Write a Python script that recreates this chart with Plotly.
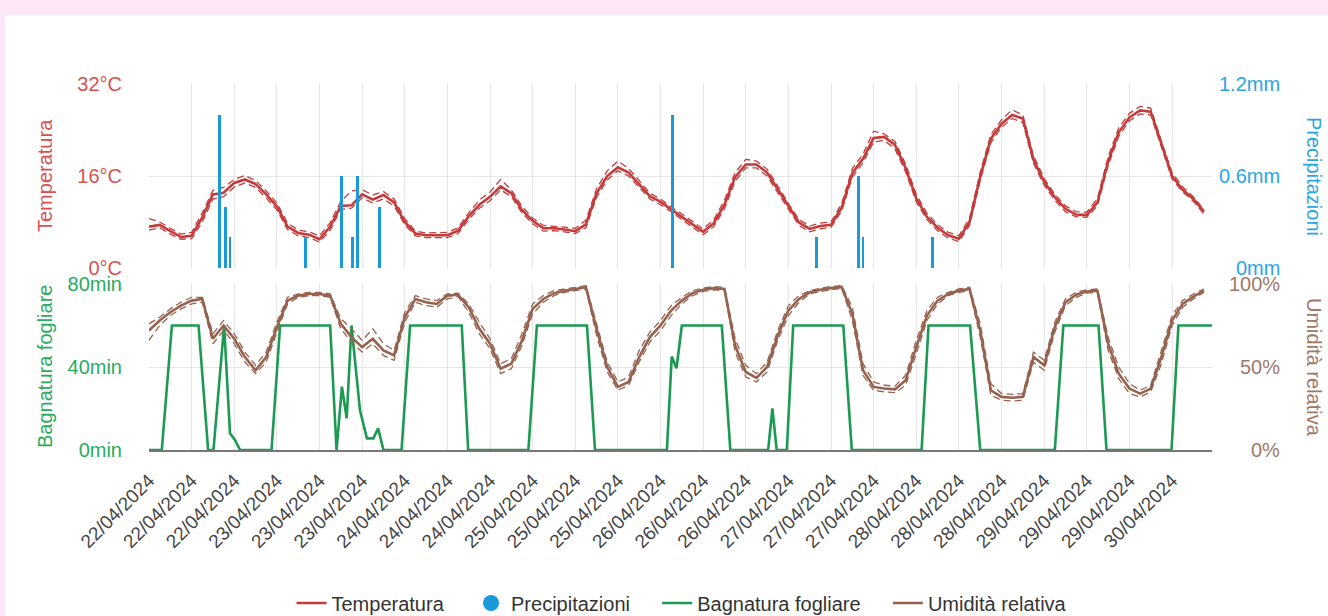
import plotly.graph_objects as go
from plotly.subplots import make_subplots
from datetime import datetime, timedelta

# ---------------- data ----------------
START = datetime(2024, 4, 22, 0, 0)
END_HOURS = 199.5

# 2-hourly samples (hours since start)
sample_hours = list(range(0, 200, 2))

temp_mean = [
    7.2, 7.5, 6.4, 5.4, 5.6, 8.8, 12.8, 13.1, 14.8, 15.4,
    14.6, 12.8, 10.7, 7.2, 6.1, 5.8, 5.0, 7.2, 10.8, 10.9,
    12.8, 11.9, 12.7, 11.4, 8.0, 6.0, 5.7, 5.7, 5.7, 6.5,
    9.0, 11.0, 12.4, 14.2, 13.0, 10.1, 8.2, 6.9, 6.9, 6.7,
    6.4, 7.6, 13.0, 16.0, 17.5, 16.6, 14.6, 12.5, 11.5, 10.2,
    8.9, 7.6, 6.3, 7.8, 11.0, 15.8, 18.0, 18.0, 16.6, 13.7,
    10.7, 7.9, 6.8, 7.3, 7.5, 10.5, 16.5, 19.0, 22.6, 22.8,
    21.4, 17.4, 12.1, 8.9, 7.0, 5.7, 5.1, 8.0, 15.9, 22.5,
    25.1, 26.6, 26.0, 18.8, 15.0, 12.3, 10.3, 9.3, 9.2, 11.4,
    18.5, 23.6, 26.2, 27.4, 27.2, 21.5, 16.0, 13.6, 12.0, 9.8,
]
temp_max = [
    8.6, 8.0, 6.9, 5.9, 6.2, 9.6, 13.5, 14.0, 15.4, 16.1,
    15.2, 13.4, 11.3, 7.8, 6.6, 6.3, 5.6, 7.9, 11.6, 13.4,
    13.6, 12.7, 13.3, 12.0, 8.6, 6.4, 6.1, 6.1, 6.2, 7.0,
    9.6, 11.8, 13.2, 15.4, 13.6, 10.7, 8.7, 7.4, 7.3, 7.1,
    6.9, 8.3, 13.8, 16.9, 18.6, 17.3, 15.2, 13.0, 12.0, 10.6,
    9.4, 8.1, 6.8, 8.4, 11.8, 16.6, 18.9, 18.6, 17.2, 14.3,
    11.2, 8.4, 7.3, 7.8, 8.0, 11.2, 17.3, 19.8, 23.8, 23.3,
    22.0, 18.1, 12.8, 9.5, 7.5, 6.2, 5.6, 8.7, 16.7, 23.2,
    25.8, 27.5, 26.6, 19.5, 15.6, 12.8, 10.8, 9.8, 9.7, 12.1,
    19.3, 24.4, 26.9, 28.1, 27.8, 22.1, 16.6, 14.1, 12.4, 10.1,
]
temp_min = [
    6.6, 7.0, 5.9, 5.0, 5.1, 8.0, 12.0, 12.4, 14.1, 14.8,
    14.0, 12.2, 10.1, 6.7, 5.6, 5.3, 4.5, 6.6, 10.2, 10.4,
    12.2, 11.3, 12.0, 10.8, 7.5, 5.6, 5.3, 5.3, 5.3, 6.0,
    8.4, 10.4, 11.7, 13.6, 12.4, 9.6, 7.7, 6.4, 6.5, 6.3,
    6.0, 7.0, 12.3, 15.3, 16.9, 16.0, 14.0, 12.0, 11.0, 9.8,
    8.4, 7.1, 5.8, 7.2, 10.3, 15.1, 17.4, 17.4, 16.0, 13.1,
    10.2, 7.4, 6.3, 6.8, 7.1, 9.9, 15.8, 18.3, 21.9, 22.2,
    20.7, 16.7, 11.5, 8.4, 6.5, 5.2, 4.6, 7.4, 15.2, 21.8,
    24.5, 26.0, 25.3, 18.2, 14.4, 11.8, 9.8, 8.9, 8.8, 10.8,
    17.8, 22.9, 25.6, 26.8, 26.6, 20.9, 15.5, 13.2, 11.6, 9.4,
]

hum_mean = [
    72, 78, 83, 87, 90, 91, 67, 75, 67, 56,
    48, 56, 74, 90, 93, 94, 94, 93, 76, 68,
    62, 67, 60, 57, 80, 91, 89, 88, 93, 93.5,
    86, 73, 64, 49, 52, 66, 85, 91, 94.5, 96,
    97, 98, 73, 50, 38, 41, 56, 68, 75, 84,
    90, 94.5, 96.5, 97.5, 97, 63, 47, 43.5, 50, 69,
    84, 91, 95, 96.5, 97.5, 98.2, 82, 48, 38, 37,
    36.5, 42, 62, 81, 90, 94, 96, 97, 72, 36,
    32, 31.5, 32, 56, 51, 74, 89, 93.5, 95.5, 96,
    64, 46, 37, 34, 37, 56, 78, 88, 92.4, 96,
]
hum_max = [
    76, 80, 85, 89, 92, 92, 70, 78, 70, 59,
    51, 59, 77, 92, 94, 95, 95, 94, 79, 73,
    66, 73, 64, 60, 83, 93, 91, 90, 94, 94.5,
    88, 77, 67, 52, 55, 70, 88, 93, 96, 97,
    98, 99, 76, 53, 41, 44, 60, 71, 78, 87,
    92, 96, 97.5, 98.5, 98, 67, 51, 46, 53, 72,
    87, 93, 96, 97.5, 98.5, 99, 86, 52, 41, 39,
    38.5, 45, 66, 84, 92, 95, 97, 98, 76, 40,
    34, 33.5, 34, 59, 54, 77, 91, 95, 96.5, 97,
    68, 50, 40, 36, 39, 60, 81, 90, 94, 97,
]
hum_min = [
    66, 75, 81, 85, 88, 89, 64, 72, 64, 53,
    46, 53, 71, 88, 92, 93, 93, 92, 73, 65,
    59, 64, 57, 54, 77, 89, 87, 86, 91, 92.5,
    83, 70, 61, 46, 49, 63, 82, 89, 93, 95,
    96, 97, 69, 47, 36, 39, 53, 65, 72, 81,
    88, 93, 95.5, 96.5, 96, 59, 44, 41, 47, 66,
    81, 89, 94, 95.5, 96.5, 97.5, 78, 45, 36, 35,
    34.5, 39, 58, 78, 88, 93, 95, 96, 68, 33,
    30, 29.5, 30, 53, 48, 71, 87, 92, 94.5, 95,
    60, 43, 34, 32, 35, 52, 75, 86, 91, 95,
]

# leaf wetness (minutes) at change points (hours since start)
wet_hours = [
    0, 2.4, 4.3, 9.3, 11.1, 12.1, 14.1, 15.2, 16.1, 17.1,
    23.0, 24.6, 34.0, 35.2, 36.2, 37.1, 38.0, 39.6, 40.9, 42.1, 43.0, 44.0,
    47.4, 49.0, 58.7, 59.9,
    71.2, 72.8, 82.2, 83.7,
    97.2, 98.1, 99.0, 100.0, 107.5, 109.1,
    116.2, 117.0, 117.8,
    119.7, 120.9, 130.3, 131.9,
    145.0, 146.3, 154.1, 156.0,
    170.0, 171.6, 178.2, 179.7,
    191.9, 193.2, 199.5,
]
wet_min = [
    0, 0, 60, 60, 0, 0, 60, 8, 5, 0,
    0, 60, 60, 0, 30.5, 15.3, 60, 19, 5.6, 5.6, 10.4, 0,
    0, 60, 60, 0,
    0, 60, 60, 0,
    0, 45, 39.4, 60, 60, 0,
    0, 20, 0,
    0, 60, 60, 0,
    0, 60, 60, 0,
    0, 60, 60, 0,
    0, 60, 60,
]

# precipitation events
precip_hours = [13.3, 14.3, 15.2, 29.4, 36.2, 38.2, 39.1, 43.3, 98.2, 125.2, 133.1, 134.0, 147.0]
precip_mm = [1.0, 0.4, 0.2, 0.2, 0.6, 0.2, 0.6, 0.4, 1.0, 0.2, 0.6, 0.2, 0.2]

temp_ticks = [0, 16, 32]
temp_ticktext = ["0°C", "16°C", "32°C"]
precip_ticks = [0, 0.6, 1.2]
precip_ticktext = ["0mm", "0.6mm", "1.2mm"]
wet_ticks = [0, 40, 80]
wet_ticktext = ["0min", "40min", "80min"]
hum_ticks = [0, 50, 100]
hum_ticktext = ["0%", "50%", "100%"]


def ts(h):
    return (START + timedelta(hours=h)).strftime("%Y-%m-%d %H:%M:%S")


t_samples = [ts(h) for h in sample_hours]
t_wet = [ts(h) for h in wet_hours]
t_precip = [ts(h) for h in precip_hours]

# ---------------- style ----------------
RED = "#c43b3b"
RED_T = "#d65252"
BLUE = "#1a9ad8"
BLUE_T = "#2aa6e2"
GREEN = "#1b9a52"
GREEN_T = "#2aab60"
BROWN = "#96624f"
BROWN_T = "#a07868"
GRID = "#e6e6e6"
FONT = "Liberation Sans, Arial, sans-serif"
FS = 20

W, H = 1328, 616
L, R, T, B = 149, 1212, 84, 450
pw, ph = R - L, B - T


def px_x(p):
    return (p - L) / pw


def px_y(p):
    return (B - p) / ph


fig = make_subplots(rows=2, cols=1, shared_xaxes=True,
                    specs=[[{"secondary_y": True}], [{"secondary_y": True}]])

DASH = "7px,4px"
PAD = "\u00a0" * 4  # extra spacing after legend labels

# temperature dashed min / max
for arr in (temp_max, temp_min):
    fig.add_trace(go.Scatter(x=t_samples, y=arr, mode="lines",
                             line=dict(color=RED, width=1.3, dash=DASH),
                             showlegend=False, hoverinfo="skip"),
                  row=1, col=1, secondary_y=False)
fig.add_trace(go.Scatter(x=t_samples, y=temp_mean, mode="lines", name="Temperatura" + PAD,
                         line=dict(color=RED, width=2.6), legendrank=1),
              row=1, col=1, secondary_y=False)

# precipitation
fig.add_trace(go.Bar(x=t_precip, y=precip_mm, marker=dict(color=BLUE, line=dict(width=0)),
                     width=2.0e6, showlegend=False, legendgroup="p", name="Precipitazioni"),
              row=1, col=1, secondary_y=True)
fig.add_trace(go.Scatter(x=[None], y=[None], mode="markers", name="Precipitazioni" + PAD,
                         marker=dict(color=BLUE, size=17, symbol="circle"),
                         legendgroup="p", legendrank=2),
              row=1, col=1, secondary_y=True)

# leaf wetness
fig.add_trace(go.Scatter(x=t_wet, y=wet_min, mode="lines", name="Bagnatura fogliare" + PAD,
                         line=dict(color=GREEN, width=2.6), legendrank=3),
              row=2, col=1, secondary_y=False)

# humidity
for arr in (hum_max, hum_min):
    fig.add_trace(go.Scatter(x=t_samples, y=arr, mode="lines",
                             line=dict(color=BROWN, width=1.3, dash=DASH),
                             showlegend=False, hoverinfo="skip"),
                  row=2, col=1, secondary_y=True)
fig.add_trace(go.Scatter(x=t_samples, y=hum_mean, mode="lines", name="Umidità relativa",
                         line=dict(color=BROWN, width=2.6), legendrank=4),
              row=2, col=1, secondary_y=True)

xrange = [ts(0), ts(END_HOURS)]
xcommon = dict(range=xrange, type="date", tick0=ts(0), dtick=8 * 3600 * 1000,
               showgrid=True, gridcolor=GRID, gridwidth=1, zeroline=False)
fig.update_xaxes(**xcommon)
fig.update_layout(
    xaxis=dict(domain=[0, 1], showticklabels=False, ticks=""),
    xaxis2=dict(domain=[0, 1], showticklabels=True, tickformat="%d/%m/%Y", tickangle=-45,
                ticks="outside", ticklen=10, tickcolor="rgba(0,0,0,0)",
                tickfont=dict(family=FONT, size=FS - 1, color="#444"),
                showline=True, linecolor="#777", linewidth=2),
    yaxis=dict(domain=[px_y(268), 1], range=[0, 32], tickvals=temp_ticks, ticktext=temp_ticktext,
               showgrid=True, gridcolor=GRID, zeroline=False, ticks="outside", ticklen=22,
               tickcolor="rgba(0,0,0,0)", tickfont=dict(family=FONT, size=FS, color=RED_T)),
    yaxis2=dict(range=[0, 1.2], tickvals=precip_ticks, showticklabels=False,
                showgrid=False, zeroline=False),
    yaxis3=dict(domain=[0, px_y(284)], range=[0, 80], tickvals=wet_ticks, ticktext=wet_ticktext,
                showgrid=True, gridcolor=GRID, zeroline=False, ticks="outside", ticklen=22,
                tickcolor="rgba(0,0,0,0)", tickfont=dict(family=FONT, size=FS, color=GREEN_T)),
    yaxis4=dict(range=[0, 100], tickvals=hum_ticks, showticklabels=False,
                showgrid=False, zeroline=False),
)

annotations = []
rx = px_x(1282)
for v, txt in zip(precip_ticks, precip_ticktext):
    annotations.append(dict(x=rx, xref="paper", y=v, yref="y2", text=txt, showarrow=False,
                            xanchor="right", yanchor="middle",
                            font=dict(family=FONT, size=FS, color=BLUE_T)))
for v, txt in zip(hum_ticks, hum_ticktext):
    annotations.append(dict(x=rx, xref="paper", y=v, yref="y4", text=txt, showarrow=False,
                            xanchor="right", yanchor="middle",
                            font=dict(family=FONT, size=FS, color=BROWN_T)))

titles = [
    ("Temperatura", 45, 176, -90, RED_T),
    ("Bagnatura fogliare", 45, 367, -90, GREEN_T),
    ("Precipitazioni", 1314, 176, 90, BLUE_T),
    ("Umidità relativa", 1314, 367, 90, BROWN_T),
]
for txt, xp, yp, ang, col in titles:
    annotations.append(dict(x=px_x(xp), xref="paper", y=px_y(yp), yref="paper", text=txt,
                            showarrow=False, textangle=ang, xanchor="center", yanchor="middle",
                            font=dict(family=FONT, size=FS, color=col)))

fig.update_layout(
    width=W, height=H,
    margin=dict(l=L, r=W - R, t=T, b=H - B, pad=0, autoexpand=False),
    paper_bgcolor="#fde6f8",
    plot_bgcolor="white",
    bargap=0,
    barmode="overlay",
    font=dict(family=FONT, size=FS, color="#333"),
    showlegend=True,
    legend=dict(orientation="h", x=px_x(682), xanchor="center", y=px_y(603), yanchor="middle",
                font=dict(family=FONT, size=FS, color="#333"), itemwidth=30,
                bgcolor="rgba(0,0,0,0)", traceorder="normal"),
    annotations=annotations,
    shapes=[dict(type="rect", xref="paper", yref="paper", layer="below",
                 x0=px_x(5), x1=px_x(W + 5), y0=px_y(H + 5), y1=px_y(15),
                 fillcolor="white", line=dict(width=0))],
)

fig.write_html("out.html",
               config={"displayModeBar": False},
               post_script="document.body.style.margin='0';document.body.style.overflow='hidden';")
